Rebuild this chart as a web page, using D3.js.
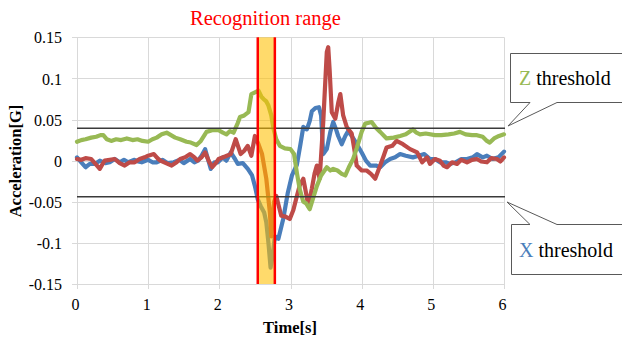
<!DOCTYPE html>
<html>
<head>
<meta charset="utf-8">
<script src="https://cdn.jsdelivr.net/npm/d3@7"></script>
<style>
  body { margin: 0; background: #fff; }
  svg { display: block; font-family: "Liberation Serif", "Times New Roman", serif; }
  .axis path { display: none; }
  .axis line { display: none; }
  .axis text { font-size: 16px; fill: #000; font-family: "Liberation Serif", serif; }
</style>
</head>
<body>
<div id="chart"></div>
<script>
// tick values
let xTicks = [0, 1, 2, 3, 4, 5, 6]
let yTicks = [-0.15, -0.1, -0.05, 0, 0.05, 0.1, 0.15]

// thresholds and recognition window
let zThreshold = 0.0394
let xThreshold = -0.0438
let rangeWindow = [2.54, 2.78]

// X axis acceleration (blue)
let xTimes = [0.00,0.06,0.12,0.18,0.25,0.32,0.40,0.46,0.53,0.60,0.66,0.72,0.80,0.86,0.91,1.00,1.06,1.12,1.20,1.27,1.36,1.44,1.50,1.59,1.65,1.70,1.75,1.80,1.84,1.88,1.93,1.98,2.05,2.10,2.16,2.22,2.26,2.33,2.40,2.46,2.50,2.54,2.58,2.63,2.66,2.69,2.72,2.75,2.78,2.83,2.90,2.96,3.02,3.09,3.14,3.18,3.23,3.27,3.30,3.35,3.40,3.43,3.46,3.51,3.56,3.60,3.64,3.67,3.72,3.77,3.81,3.86,3.92,4.00,4.06,4.12,4.20,4.26,4.33,4.40,4.47,4.54,4.62,4.72,4.80,4.88,4.96,5.03,5.10,5.18,5.24,5.32,5.40,5.48,5.56,5.62,5.70,5.76,5.84,5.92,6.00]
let xValues = [0.004,-0.002,-0.008,-0.004,-0.004,0.000,-0.003,-0.002,0.002,-0.002,0.001,-0.002,0.001,-0.001,-0.002,0.001,-0.002,-0.002,0.001,-0.003,-0.002,0.001,-0.003,0.002,-0.002,0.000,0.006,0.014,0.002,-0.010,-0.002,-0.002,0.004,0.000,0.010,0.002,-0.004,-0.003,-0.010,-0.018,-0.031,-0.047,-0.055,-0.063,-0.075,-0.100,-0.130,-0.115,-0.092,-0.095,-0.070,-0.040,-0.018,-0.005,0.020,0.041,0.038,0.048,0.060,0.064,0.065,0.055,0.008,0.014,0.035,0.047,0.038,0.030,0.020,0.030,0.036,0.030,0.022,0.010,0.000,-0.006,-0.006,-0.008,-0.002,0.002,0.004,0.008,0.006,0.004,0.006,0.008,0.002,0.002,-0.002,-0.002,-0.004,-0.002,0.002,0.002,0.004,0.008,0.004,0.006,0.002,0.004,0.011]

// Y axis acceleration (red)
let yTimes = [0.00,0.06,0.12,0.20,0.26,0.32,0.36,0.39,0.46,0.53,0.60,0.67,0.74,0.81,0.88,0.95,1.00,1.08,1.13,1.17,1.25,1.33,1.40,1.45,1.52,1.59,1.65,1.69,1.75,1.80,1.85,1.90,1.95,1.99,2.08,2.16,2.23,2.30,2.35,2.40,2.45,2.50,2.55,2.60,2.66,2.71,2.73,2.77,2.80,2.87,2.93,2.99,3.04,3.09,3.13,3.18,3.22,3.25,3.30,3.34,3.37,3.41,3.46,3.51,3.53,3.55,3.58,3.63,3.67,3.70,3.74,3.79,3.86,3.90,3.93,4.00,4.07,4.13,4.19,4.26,4.31,4.35,4.43,4.49,4.58,4.68,4.78,4.85,4.92,4.96,5.03,5.10,5.15,5.20,5.27,5.34,5.40,5.48,5.55,5.62,5.68,5.76,5.82,5.90,5.95,6.00]
let yValues = [0.002,0.001,0.003,0.002,-0.004,-0.010,-0.004,0.000,0.001,0.002,-0.003,-0.006,-0.002,-0.002,0.002,0.004,0.006,0.008,0.003,0.000,-0.003,-0.006,-0.002,0.002,0.004,0.008,0.004,0.000,0.004,0.010,0.000,-0.008,-0.003,0.002,0.005,0.008,0.026,0.008,0.012,0.018,0.006,0.030,0.020,0.008,-0.022,-0.063,-0.092,-0.050,-0.043,-0.067,-0.068,-0.071,-0.060,-0.043,-0.030,-0.022,-0.040,-0.055,-0.034,-0.015,-0.006,-0.022,0.047,0.132,0.138,0.110,0.059,0.051,0.070,0.081,0.055,0.041,0.033,0.012,-0.006,-0.012,-0.012,-0.016,-0.022,-0.006,0.006,0.016,0.018,0.024,0.020,0.014,0.010,-0.002,0.004,-0.004,0.002,0.000,-0.006,-0.008,-0.002,-0.004,0.001,-0.002,0.001,0.002,-0.001,-0.002,0.003,0.002,-0.001,0.004]

// Z axis acceleration (green)
let zTimes = [0.00,0.06,0.12,0.20,0.27,0.33,0.37,0.42,0.48,0.55,0.62,0.70,0.78,0.85,0.92,1.00,1.06,1.12,1.19,1.26,1.32,1.38,1.45,1.54,1.60,1.68,1.74,1.82,1.90,1.99,2.05,2.10,2.15,2.20,2.26,2.29,2.35,2.41,2.45,2.50,2.55,2.59,2.62,2.66,2.69,2.73,2.76,2.80,2.85,2.92,3.00,3.05,3.09,3.13,3.18,3.22,3.27,3.32,3.37,3.43,3.51,3.56,3.60,3.66,3.72,3.77,3.82,3.88,3.93,4.00,4.05,4.10,4.14,4.20,4.26,4.35,4.45,4.54,4.62,4.72,4.77,4.82,4.90,5.03,5.12,5.22,5.30,5.38,5.46,5.55,5.62,5.70,5.76,5.80,5.86,5.93,6.00]
let zValues = [0.023,0.025,0.026,0.028,0.029,0.031,0.031,0.026,0.024,0.026,0.025,0.027,0.025,0.026,0.024,0.023,0.026,0.028,0.032,0.034,0.031,0.028,0.026,0.023,0.022,0.019,0.024,0.035,0.037,0.037,0.034,0.032,0.036,0.034,0.046,0.053,0.055,0.059,0.081,0.083,0.085,0.078,0.075,0.072,0.067,0.055,0.039,0.026,0.018,0.015,0.014,0.008,-0.015,-0.035,-0.050,-0.052,-0.059,-0.045,-0.031,-0.018,-0.008,-0.012,-0.010,-0.012,-0.016,-0.018,-0.008,0.002,0.015,0.035,0.045,0.046,0.047,0.040,0.035,0.027,0.028,0.030,0.032,0.038,0.034,0.032,0.033,0.031,0.031,0.032,0.033,0.035,0.032,0.031,0.031,0.029,0.024,0.022,0.027,0.030,0.032]

let series = [
  {name: "X", times: xTimes, values: xValues, color: "#4a7ebb"},
  {name: "Y", times: yTimes, values: yValues, color: "#be4b48"},
  {name: "Z", times: zTimes, values: zValues, color: "#98b954"}
]

let width = 622, height = 338
let plot = {left: 77, right: 504, top: 37.3, bottom: 284}

let xScale = d3.scaleLinear().domain([0, 6]).range([plot.left, plot.right])
let yScale = d3.scaleLinear().domain([-0.15, 0.15]).range([plot.bottom, plot.top])

let svg = d3.select("#chart").append("svg")
    .attr("width", width)
    .attr("height", height)

// grid (lines poke a few px out of the plot like little tick marks)
svg.append("g").selectAll("line")
  .data(xTicks)
  .enter().append("line")
  .attr("x1", d => Math.round(xScale(d)) + 0.5).attr("x2", d => Math.round(xScale(d)) + 0.5)
  .attr("y1", plot.top).attr("y2", plot.bottom + 5)
  .attr("stroke", "#d9d9d9")

svg.append("g").selectAll("line")
  .data(yTicks)
  .enter().append("line")
  .attr("x1", plot.left - 5).attr("x2", plot.right)
  .attr("y1", d => Math.round(yScale(d)) + 0.5).attr("y2", d => Math.round(yScale(d)) + 0.5)
  .attr("stroke", "#d9d9d9")

// tick labels
svg.append("g")
  .attr("class", "axis")
  .attr("transform", "translate(" + (plot.left - 2) + ",0)")
  .call(d3.axisLeft(yScale).tickValues(yTicks).tickSize(0).tickPadding(13).tickFormat(d => String(d)))
  .selectAll("text").attr("dy", "0.35em")

svg.append("g")
  .attr("class", "axis")
  .attr("transform", "translate(-2," + plot.bottom + ")")
  .call(d3.axisBottom(xScale).tickValues(xTicks).tickSize(0).tickPadding(15).tickFormat(d3.format("d")))

// data lines
let line = d3.line()
    .x(d => xScale(d[0]))
    .y(d => yScale(d[1]))

series.forEach(s => {
  svg.append("path")
    .datum(s.times.map((t, i) => [t, s.values[i]]))
    .attr("fill", "none")
    .attr("stroke", s.color)
    .attr("stroke-width", 4.2)
    .attr("stroke-linejoin", "round")
    .attr("stroke-linecap", "round")
    .attr("d", line)
})

// threshold lines
;[zThreshold, xThreshold].forEach(v => {
  svg.append("line")
    .attr("x1", plot.left).attr("x2", xScale(6) + 1)
    .attr("y1", yScale(v)).attr("y2", yScale(v))
    .attr("stroke", "#3a3a3a")
    .attr("stroke-width", 1.5)
})

// recognition band
svg.append("rect")
  .attr("x", xScale(rangeWindow[0]))
  .attr("y", plot.top)
  .attr("width", xScale(rangeWindow[1]) - xScale(rangeWindow[0]))
  .attr("height", plot.bottom - plot.top)
  .attr("fill", "#ffc000")
  .attr("fill-opacity", 0.58)

rangeWindow.forEach(t => {
  svg.append("line")
    .attr("x1", xScale(t)).attr("x2", xScale(t))
    .attr("y1", plot.top).attr("y2", plot.bottom)
    .attr("stroke", "#ff0000")
    .attr("stroke-width", 2.5)
})

svg.append("text")
  .attr("x", 190)
  .attr("y", 25)
  .attr("fill", "#ff0000")
  .style("font-size", "20.5px")
  .text("Recognition range")

// axis titles
svg.append("text")
  .attr("x", 290)
  .attr("y", 333)
  .attr("text-anchor", "middle")
  .style("font-size", "16.5px")
  .style("font-weight", "bold")
  .text("Time[s]")

svg.append("text")
  .attr("transform", "translate(21,161) rotate(-90)")
  .attr("text-anchor", "middle")
  .style("font-size", "16.5px")
  .style("font-weight", "bold")
  .text("Acceleration[G]")

// callouts
function callout(x0, y0, x1, y1, tip, pointerOnTop) {
  let p
  if (pointerOnTop) {
    p = `M${x0},${y0} L530,${y0} L${tip[0]},${tip[1]} L557,${y0} L${x1},${y0} L${x1},${y1} L${x0},${y1} Z`
  } else {
    p = `M${x0},${y0} L${x1},${y0} L${x1},${y1} L557,${y1} L${tip[0]},${tip[1]} L530,${y1} L${x0},${y1} Z`
  }
  svg.append("path")
    .attr("d", p)
    .attr("fill", "#fff")
    .attr("stroke", "#595959")
    .attr("stroke-width", 1)
}

callout(510.5, 53.5, 640, 102.5, [508, 126], false)
callout(511.5, 224.5, 640, 274.5, [507, 202], true)

let zLabel = svg.append("text").attr("x", 519).attr("y", 85).style("font-size", "20px")
zLabel.append("tspan").attr("fill", "#98b954").text("Z")
zLabel.append("tspan").attr("fill", "#000").text(" threshold")

let xLabel = svg.append("text").attr("x", 519).attr("y", 257).style("font-size", "20px")
xLabel.append("tspan").attr("fill", "#4a7ebb").text("X")
xLabel.append("tspan").attr("fill", "#000").text(" threshold")
</script>
</body>
</html>
